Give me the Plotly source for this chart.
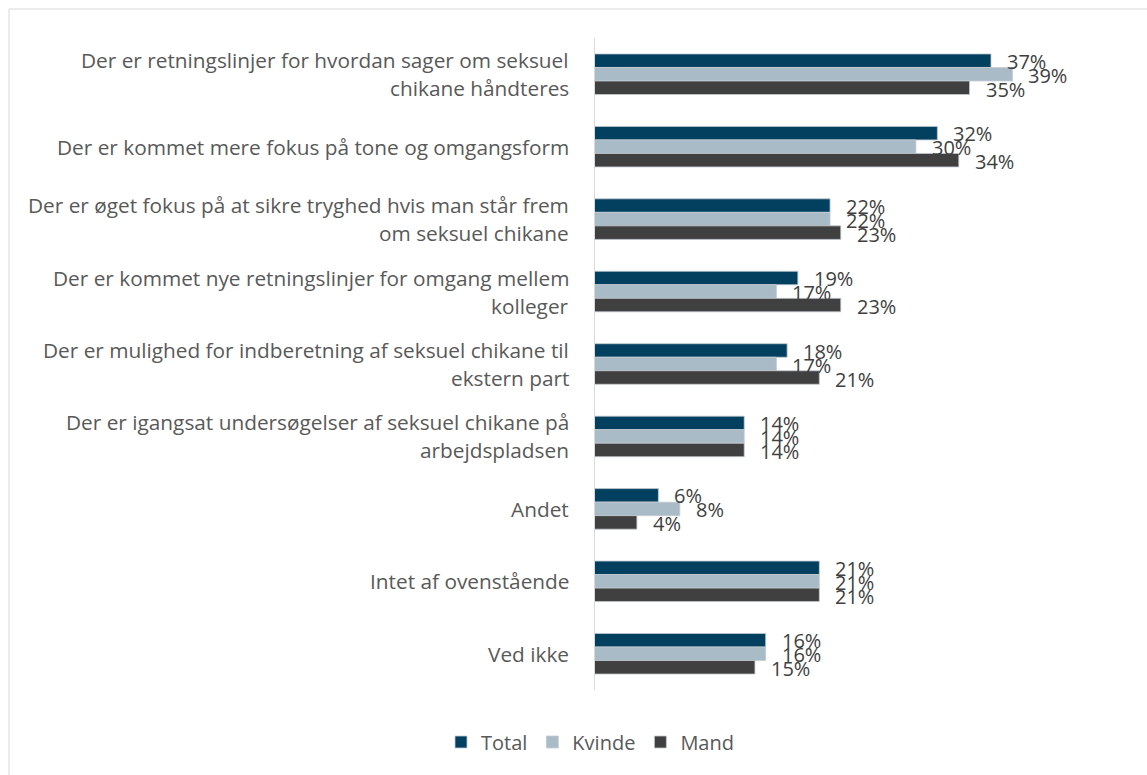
import plotly.graph_objects as go

categories = [
    "Der er retningslinjer for hvordan sager om seksuel\nchikane håndteres",
    "Der er kommet mere fokus på tone og omgangsform",
    "Der er øget fokus på at sikre tryghed hvis man står frem\nom seksuel chikane",
    "Der er kommet nye retningslinjer for omgang mellem\nkolleger",
    "Der er mulighed for indberetning af seksuel chikane til\nekstern part",
    "Der er igangsat undersøgelser af seksuel chikane på\narbejdspladsen",
    "Andet",
    "Intet af ovenstående",
    "Ved ikke",
]
total = [37, 32, 22, 19, 18, 14, 6, 21, 16]
kvinde = [39, 30, 22, 17, 17, 14, 8, 21, 16]
mand = [35, 34, 23, 23, 21, 14, 4, 21, 15]

series = [
    ("Total", total, "#033F5E", 13),
    ("Kvinde", kvinde, "#A9BBC7", -1),
    ("Mand", mand, "#404040", -15),
]

FONT = "'Open Sans', 'Liberation Sans', Arial, sans-serif"
TEXT = "#595959"
W, H = 1147, 775
ML, MR, MT, MB = 594, 47, 38, 85
px_per_pct = 10.73
xmax = (W - ML - MR) / px_per_pct

fig = go.Figure()
for name, vals, color, _ in series:
    fig.add_trace(go.Bar(
        y=list(range(len(categories))), x=vals, name=name, orientation="h",
        marker=dict(color=color, line=dict(color="#c3ccd2", width=0.8)),
        hoverinfo="x+name",
    ))

annotations = []
# value labels next to each bar
for name, vals, color, yshift in series:
    for i, v in enumerate(vals):
        annotations.append(dict(
            x=v, y=i, xref="x", yref="y", text=f"{v}%", showarrow=False,
            xanchor="left", yanchor="middle", xshift=14, yshift=yshift,
            font=dict(family=FONT, size=20, color="#404040"),
        ))

# category labels, right aligned, one annotation per line
line_h = 28
for i, cat in enumerate(categories):
    lines = cat.split("\n")
    n = len(lines)
    for k, ln in enumerate(lines):
        off = ((n - 1) / 2 - k) * line_h
        annotations.append(dict(
            x=0, y=i, xref="paper", yref="y", text=ln, showarrow=False,
            xanchor="right", yanchor="middle", xshift=-23, yshift=off,
            font=dict(family=FONT, size=20.8, color=TEXT),
        ))

plot_w = W - ML - MR
plot_h = H - MT - MB
shapes = [dict(
    type="rect", xref="paper", yref="paper",
    x0=(9 - ML) / plot_w, x1=(W + 20 - ML) / plot_w,
    y0=-(H + 20 - MT - plot_h) / plot_h, y1=1 + (MT - 9) / plot_h,
    line=dict(color="#d9d9d9", width=1), layer="below",
)]

fig.update_layout(
    width=W, height=H,
    margin=dict(l=ML, r=MR, t=MT, b=MB, pad=0),
    paper_bgcolor="white", plot_bgcolor="white",
    barmode="group", bargap=0.44, bargroupgap=0,
    font=dict(family=FONT, size=18, color=TEXT),
    xaxis=dict(range=[0, xmax], visible=False, fixedrange=True),
    yaxis=dict(
        range=[len(categories) - 0.5, -0.5], showticklabels=False,
        showgrid=False, zeroline=False, showline=False, ticks="",
    ),
    legend=dict(
        orientation="h", x=590 / W, xref="container", xanchor="center",
        y=1 - 742 / H, yref="container", yanchor="middle",
        font=dict(family=FONT, size=20, color=TEXT),
        itemwidth=30, traceorder="normal",
    ),
    annotations=annotations,
    shapes=shapes + [dict(
        type="line", xref="x", yref="paper", x0=0, x1=0, y0=0, y1=1,
        line=dict(color="#d9d9d9", width=2),
    )],
    showlegend=True,
)

fig.write_html("out.html")
